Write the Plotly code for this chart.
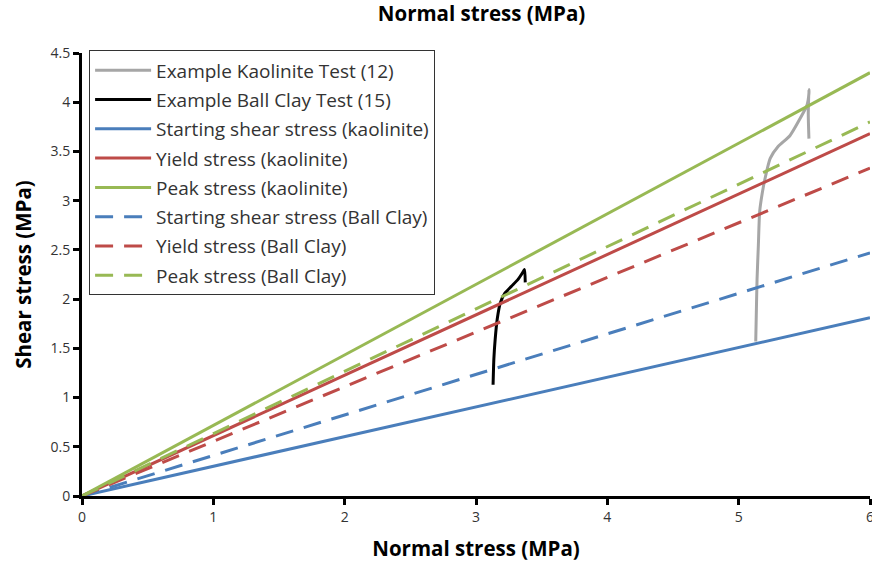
import plotly.graph_objects as go

# Test curves
kaol_x = [5.13, 5.135, 5.14, 5.15, 5.16, 5.18, 5.20, 5.24, 5.30, 5.39, 5.47, 5.52, 5.535, 5.535, 5.53, 5.535]
kaol_y = [1.57, 1.90, 2.20, 2.55, 2.89, 3.08, 3.22, 3.43, 3.55, 3.66, 3.84, 3.97, 4.09, 4.13, 3.88, 3.63]
ball_x = [3.13, 3.136, 3.146, 3.162, 3.185, 3.22, 3.27, 3.32, 3.36, 3.37, 3.375]
ball_y = [1.13, 1.39, 1.59, 1.80, 1.96, 2.06, 2.13, 2.20, 2.28, 2.30, 2.17]

# Failure envelope lines (end points)
line_x = [0, 6]
kaol_start = [0, 1.81]
kaol_yield = [0, 3.68]
kaol_peak = [0, 4.30]
ball_start = [0, 2.47]
ball_yield = [0, 3.33]
ball_peak = [0, 3.80]

names = [
    "Example Kaolinite Test (12)",
    "Example Ball Clay Test (15)",
    "Starting shear stress (kaolinite)",
    "Yield stress (kaolinite)",
    "Peak stress (kaolinite)",
    "Starting shear stress (Ball Clay)",
    "Yield stress (Ball Clay)",
    "Peak stress (Ball Clay)",
]

BLUE = "#4A7EBB"
RED = "#BE4B48"
GREEN = "#98B954"
GRAY = "#A6A6A6"
DASH = "18px,11px"

series = [
    (kaol_x, kaol_y, GRAY, "solid"),
    (ball_x, ball_y, "#000000", "solid"),
    (line_x, kaol_start, BLUE, "solid"),
    (line_x, kaol_yield, RED, "solid"),
    (line_x, kaol_peak, GREEN, "solid"),
    (line_x, ball_start, BLUE, DASH),
    (line_x, ball_yield, RED, DASH),
    (line_x, ball_peak, GREEN, DASH),
]

fig = go.Figure()
for i, (xs, ys, c, d) in enumerate(series):
    fig.add_trace(go.Scatter(
        x=xs, y=ys, mode="lines", name=names[i], legendgroup=str(i),
        line=dict(color=c, width=3, dash=d, shape="spline" if i < 2 else "linear", smoothing=0.6),
    ))

FONT = "Open Sans"
TFONT = dict(family=FONT, size=20.5, color="#000", weight="bold")
fig.update_layout(
    width=872, height=564,
    margin=dict(l=82, r=2, t=53, b=68),
    paper_bgcolor="white", plot_bgcolor="white",
    font=dict(family=FONT, color="#222"),
    title=dict(text="Normal stress (MPa)", x=0.507, xref="paper", xanchor="center",
               y=1 - 14 / 564, yref="container", yanchor="middle", font=TFONT),
    legend=dict(x=0.009, y=1.006, xanchor="left", yanchor="top",
                bgcolor="white", bordercolor="#333", borderwidth=1,
                font=dict(family=FONT, size=19, color="#333"),
                tracegroupgap=1.6, itemwidth=56),
    showlegend=True,
)
fig.update_xaxes(range=[0, 6], dtick=1, tick0=0, showgrid=False, zeroline=False,
                 showline=True, linecolor="#000", linewidth=3, automargin=False,
                 ticks="outside", ticklen=6, tickwidth=3, tickcolor="#000",
                 ticklabeloverflow="allow",
                 tickfont=dict(family=FONT, size=14, color="#333"),
                 title=dict(text="Normal stress (MPa)", standoff=17, font=TFONT))
fig.update_yaxes(range=[0, 4.5], dtick=0.5, tick0=0, showgrid=False, zeroline=False,
                 showline=True, linecolor="#000", linewidth=3, automargin=False,
                 ticks="outside", ticklen=6, tickwidth=3, tickcolor="#000",
                 ticklabeloverflow="allow",
                 tickfont=dict(family=FONT, size=14, color="#333"),
                 title=dict(text="Shear stress (MPa)", standoff=14, font=TFONT))

fig.write_html("out.html", config={"displayModeBar": False},
               post_script="document.body.style.margin='0px';document.body.style.overflow='hidden';")
